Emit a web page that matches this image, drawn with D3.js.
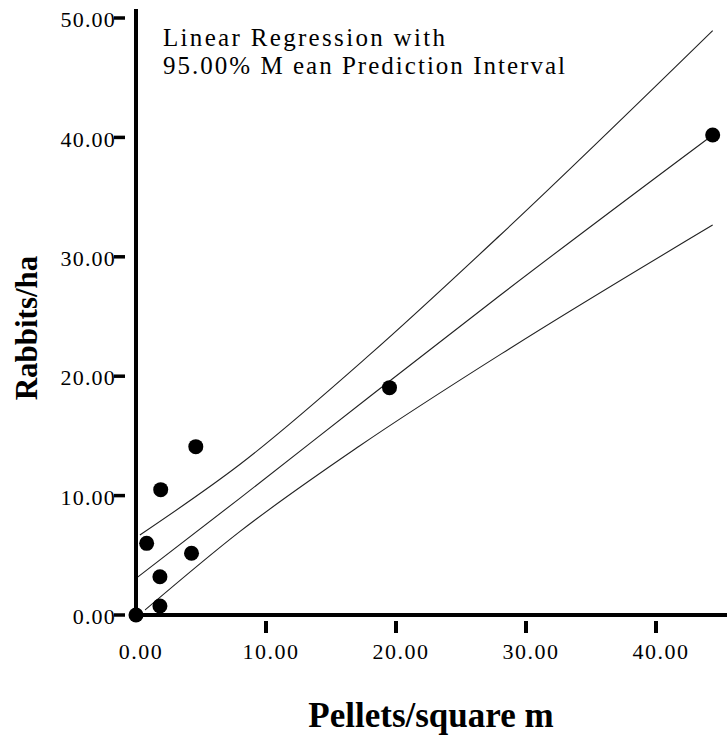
<!DOCTYPE html>
<html>
<head>
<meta charset="utf-8">
<script src="https://cdn.jsdelivr.net/npm/d3@7"></script>
<style>
  body { margin: 0; background: #fff; }
  svg { display: block; }
  text { font-family: "Liberation Serif", "Times New Roman", serif; fill: #000; }
</style>
</head>
<body>
<svg id="chart" width="727" height="736"></svg>
<script>
// data
var pellets = [0, 0.82, 1.84, 1.84, 1.9, 4.27, 4.6, 19.5, 44.36];
var rabbits = [0, 6.0, 3.2, 0.75, 10.5, 5.17, 14.1, 19.04, 40.2];

// fitted line and 95% mean prediction band, read at a few x positions
var fitX = [0, 7.98, 17.96, 27.94, 44.36];
var fitY = [3.07, 9.77, 18.28, 26.72, 40.2];
var upperX = [0.3, 7.98, 17.96, 27.94, 44.36];
var upperY = [6.7, 12.6, 21.78, 31.74, 48.94];
var lowerX = [0.7, 7.98, 17.19, 28.7, 44.36];
var lowerY = [0.42, 6.98, 14.15, 22.28, 32.66];

var xTicks = [10, 20, 30, 40];
var yTicks = [0, 10, 20, 30, 40, 50];

var svg = d3.select('#chart');

var x = d3.scaleLinear().domain([0, 40]).range([136, 656]);
var y = d3.scaleLinear().domain([0, 50]).range([615, 18]);

// regression + band lines
var line = d3.line()
    .curve(d3.curveMonotoneX)
    .x(function (d) { return x(d[0]); })
    .y(function (d) { return y(d[1]); });

[[fitX, fitY], [upperX, upperY], [lowerX, lowerY]].forEach(function (s) {
    svg.append('path')
        .datum(d3.zip(s[0], s[1]))
        .attr('d', line)
        .attr('fill', 'none')
        .attr('stroke', '#222')
        .attr('stroke-width', 1.1);
});

// axes lines
svg.append('line')
    .attr('x1', x(0)).attr('x2', x(0))
    .attr('y1', 9).attr('y2', y(0) + 2)
    .attr('stroke', '#000').attr('stroke-width', 4);
svg.append('line')
    .attr('x1', x(0) - 2).attr('x2', 727)
    .attr('y1', y(0)).attr('y2', y(0))
    .attr('stroke', '#000').attr('stroke-width', 4);

// y ticks (detached, left of axis)
var yg = svg.append('g').attr('class', 'yAxis');
yg.selectAll('line').data(yTicks).enter().append('line')
    .attr('x1', 114).attr('x2', 125)
    .attr('y1', function (d) { return y(d); })
    .attr('y2', function (d) { return y(d); })
    .attr('stroke', '#000').attr('stroke-width', 3.5);
yg.selectAll('text').data(yTicks).enter().append('text')
    .attr('x', 116)
    .attr('y', function (d) { return y(d); })
    .attr('dy', '0.42em')
    .attr('text-anchor', 'end')
    .style('font-size', '22px')
    .style('letter-spacing', '1.2px')
    .text(function (d) { return d3.format('.2f')(d); });

// x ticks (detached, below axis)
var xg = svg.append('g').attr('class', 'xAxis');
xg.selectAll('line').data(xTicks).enter().append('line')
    .attr('x1', function (d) { return x(d); })
    .attr('x2', function (d) { return x(d); })
    .attr('y1', 621).attr('y2', 633)
    .attr('stroke', '#000').attr('stroke-width', 4);
xg.selectAll('text').data([0].concat(xTicks)).enter().append('text')
    .attr('x', function (d) { return x(d) + 5; })
    .attr('y', 659)
    .attr('text-anchor', 'middle')
    .style('font-size', '22px')
    .style('letter-spacing', '1.5px')
    .text(function (d) { return d3.format('.2f')(d); });

// points
svg.selectAll('circle').data(d3.zip(pellets, rabbits)).enter().append('circle')
    .attr('cx', function (d) { return x(d[0]); })
    .attr('cy', function (d) { return y(d[1]); })
    .attr('r', 7.5)
    .attr('fill', '#000');

// annotation, two lines
svg.append('text').attr('x', 163).attr('y', 45.5)
    .style('font-size', '25px')
    .attr('textLength', 282).attr('lengthAdjust', 'spacing')
    .text('Linear Regression with');
svg.append('text').attr('x', 163).attr('y', 73.5)
    .style('font-size', '25px')
    .attr('textLength', 402).attr('lengthAdjust', 'spacing')
    .text('95.00% M ean Prediction Interval');

// axis titles
svg.append('text')
    .attr('x', 431).attr('y', 727)
    .attr('text-anchor', 'middle')
    .style('font-size', '35px')
    .style('font-weight', 'bold')
    .text('Pellets/square m');

svg.append('text')
    .attr('transform', 'translate(37,328) rotate(-90)')
    .attr('text-anchor', 'middle')
    .style('font-size', '31px')
    .style('font-weight', 'bold')
    .text('Rabbits/ha');
</script>
</body>
</html>
